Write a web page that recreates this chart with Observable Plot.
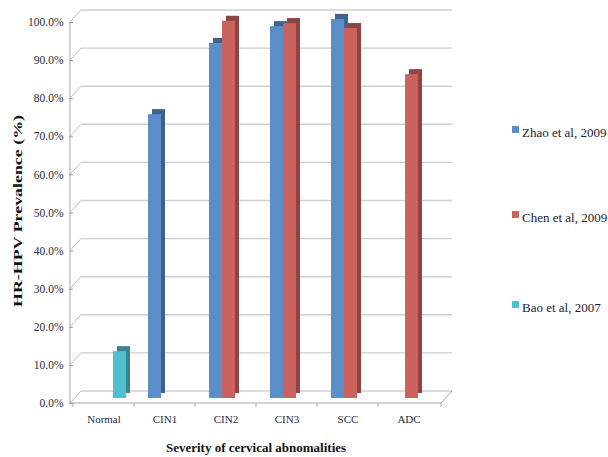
<!DOCTYPE html>
<html><head><meta charset="utf-8">
<script src="https://cdn.jsdelivr.net/npm/d3@7"></script>
<script src="https://cdn.jsdelivr.net/npm/@observablehq/plot@0.6"></script>
<style>
body{margin:0;background:#fff;}
#wrap{position:relative;width:608px;height:457px;font-family:"Liberation Serif","Times New Roman",serif;overflow:hidden;}
.lg{position:absolute;left:512px;font-size:13px;color:#1c1c30;white-space:nowrap;line-height:14px;}
.lg i{display:inline-block;width:7px;height:7px;margin-right:3px;vertical-align:4px;}
</style></head>
<body><div id="wrap"></div>
<script>
const categories = ["Normal", "CIN1", "CIN2", "CIN3", "SCC", "ADC"];
const series = ["Zhao et al, 2009", "Chen et al, 2009", "Bao et al, 2007"];
const zhao = [null, 74.5, 93.2, 97.6, 99.5, null];
const chen = [null, null, 99.0, 98.4, 97.1, 85.0];
const bao  = [12.3, null, null, null, null, null];
const yTicks = [0, 10, 20, 30, 40, 50, 60, 70, 80, 90, 100];
const colors = ["#5b8dc8", "#cc625e", "#4fbfd2"];
const yTitle = "HR-HPV Prevalence (%)";
const xTitle = "Severity of cervical abnomalities";

const values = [zhao, chen, bao];
const rows = [];
categories.forEach((c, i) => series.forEach((s, j) => {
  const v = values[j][i];
  if (v != null) rows.push({cat: c, series: s, value: v});
}));

const common = {fx: "cat", x: "series", y: "value"};
const plot = Plot.plot({
  width: 608, height: 457,
  marginLeft: 71, marginRight: 167, marginTop: 17, marginBottom: 59,
  fx: {domain: categories, padding: 0, label: null},
  x: {domain: series, paddingInner: 0, paddingOuter: 0.72, axis: null},
  y: {domain: [0, 100], axis: null},
  color: {domain: series, range: colors},
  style: {fontFamily: "'Liberation Serif', serif", fontSize: "11px", color: "#2a2a3a", background: "#fff"},
  marks: [
    Plot.barY(rows, {...common, fill: "series", dx: 7, dy: -5}),
    Plot.barY(rows, {...common, fill: "#000", fillOpacity: 0.3, dx: 7, dy: -5}),
    Plot.barY(rows, {...common, fill: "series", dx: 3}),
    Plot.axisFx({anchor: "bottom", tickSize: 0, tickPadding: 17, label: null, fontSize: 11}),
    Plot.axisY(yTicks, {tickFormat: d => d.toFixed(1) + "%", dy: 5, tickSize: 4, tickPadding: 6, stroke: "#999", fontSize: 11.5, label: null})
  ]
});

const wrap = document.getElementById("wrap");
wrap.appendChild(plot);

// 3D back wall, floor and axis lines, drawn with the plot's own scales
const yS = plot.scale("y");
const fxS = plot.scale("fx");
const L = fxS.range[0], R = fxS.range[1];
const svg = d3.select(plot);
const gBack = svg.insert("g", ":first-child").attr("fill", "none");
const back = v => yS.apply(v) - 7;
const front = v => yS.apply(v) + 5;
yTicks.forEach(v => {
  gBack.append("line").attr("x1", L + 10).attr("x2", R + 11).attr("y1", back(v)).attr("y2", back(v)).attr("stroke", "#cfcfcf").attr("stroke-width", 1.4);
  gBack.append("line").attr("x1", L - 1).attr("x2", L + 10).attr("y1", front(v)).attr("y2", back(v)).attr("stroke", "#bdbdbd");
});
const gFront = svg.append("g").attr("fill", "none").attr("stroke", "#a8a8a8");
gFront.append("line").attr("x1", L - 1).attr("x2", L - 1).attr("y1", front(0)).attr("y2", front(100));
gFront.append("polyline").attr("points", `${L-1},${front(0)} ${R},${front(0)} ${R+11},${back(0)}`);
categories.forEach(c => {
  const xx = fxS.apply(c);
  gFront.append("line").attr("x1", xx).attr("x2", xx).attr("y1", front(0)).attr("y2", front(0) + 4);
});
gFront.append("line").attr("x1", R).attr("x2", R).attr("y1", front(0)).attr("y2", front(0) + 4);

// titles
svg.append("text").attr("x", (L + R) / 2).attr("y", 452).attr("text-anchor", "middle")
  .attr("font-weight", "bold").attr("font-size", 13).attr("fill", "#111").text(xTitle);
svg.append("text").attr("transform", `translate(22,211) rotate(-90)`).attr("text-anchor", "middle")
  .attr("font-weight", "bold").attr("font-size", 13).attr("fill", "#111")
  .attr("textLength", 192).attr("lengthAdjust", "spacingAndGlyphs").text(yTitle);

// legend
const legendY = [126, 211, 301];
series.forEach((s, i) => {
  const d = document.createElement("div");
  d.className = "lg";
  d.style.top = legendY[i] + "px";
  d.innerHTML = `<i style="background:${colors[i]}"></i>${s}`;
  wrap.appendChild(d);
});
</script>
</body></html>
